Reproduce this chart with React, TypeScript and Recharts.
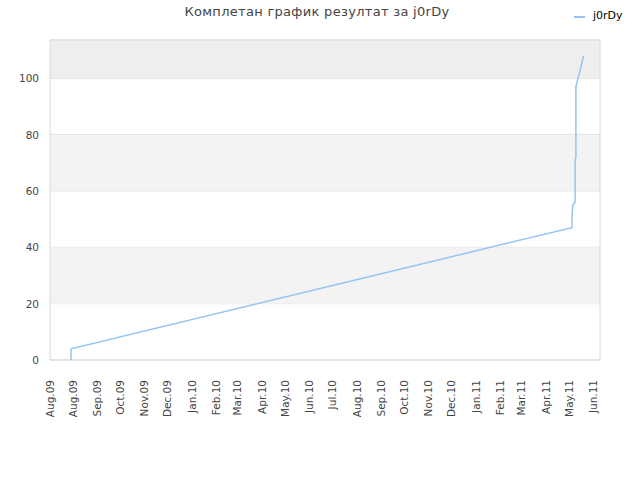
import React from "react";
import {
  LineChart,
  Line,
  XAxis,
  YAxis,
  CartesianGrid,
  ReferenceArea,
} from "recharts";

// days counted from 1 Aug 2009
const days = [-2, -2, 642, 642, 643, 646, 646, 647, 647, 657];
const scores = [0, 4, 47, 51, 55, 56, 71, 72, 97, 108];

const tickDays = [
  -29, 0, 31, 61, 92, 122, 153, 184, 212, 243, 273, 304, 334, 365, 396, 426,
  457, 487, 518, 549, 577, 608, 638, 669,
];
const tickLabels = [
  "Aug.09", "Aug.09", "Sep.09", "Oct.09", "Nov.09", "Dec.09", "Jan.10",
  "Feb.10", "Mar.10", "Apr.10", "May.10", "Jun.10", "Jul.10", "Aug.10",
  "Sep.10", "Oct.10", "Nov.10", "Dec.10", "Jan.11", "Feb.11", "Mar.11",
  "Apr.11", "May.11", "Jun.11",
];
const yTicks = [0, 20, 40, 60, 80, 100];
const bands = [
  { y1: 20, y2: 40, fill: "#f3f3f3" },
  { y1: 60, y2: 80, fill: "#f3f3f3" },
  { y1: 100, y2: 113.6, fill: "#eeeeee" },
];

const seriesName = "j0rDy";
const title = "Комплетан график резултат за j0rDy";

const X_MIN = -29;
const X_MAX = 678;
const Y_MAX = 113.6;

const data = days.map((d, i) => ({ day: d, score: scores[i] }));

const FONT = "'DejaVu Sans', sans-serif";

const XTick = (props: any) => {
  const { x, y, payload } = props;
  const idx = tickDays.indexOf(payload.value);
  const label = idx >= 0 ? tickLabels[idx] : "";
  return (
    <text
      x={0}
      y={0}
      transform={`translate(${x},${y + 12}) rotate(-90)`}
      textAnchor="end"
      dominantBaseline="central"
      fontSize={10.5}
      fontFamily={FONT}
      fill="#444"
    >
      {label}
    </text>
  );
};

const YTick = (props: any) => {
  const { y, payload } = props;
  return (
    <text
      x={39}
      y={y}
      textAnchor="end"
      dominantBaseline="central"
      fontSize={10.5}
      fontFamily={FONT}
      fill="#444"
    >
      {payload.value}
    </text>
  );
};

export default function App() {
  return (
    <div
      style={{
        position: "absolute",
        left: 0,
        top: 0,
        width: 640,
        height: 480,
        background: "#fff",
      }}
    >
      <div
        style={{
          position: "absolute",
          left: 0,
          top: 4,
          width: 634,
          textAlign: "center",
          fontFamily: FONT,
          fontSize: 13,
          color: "#444",
          letterSpacing: 0.3,
        }}
      >
        {title}
      </div>
      <div
        style={{
          position: "absolute",
          left: 574,
          top: 16,
          width: 11,
          height: 2,
          background: "#94c4f3",
        }}
      />
      <div
        style={{
          position: "absolute",
          left: 593,
          top: 9,
          fontFamily: FONT,
          fontSize: 11,
          color: "#000",
        }}
      >
        {seriesName}
      </div>
      <LineChart
        width={640}
        height={480}
        data={data}
        margin={{ top: 40, right: 40, left: 0, bottom: 0 }}
      >
        {bands.map((b, i) => (
          <ReferenceArea
            key={i}
            x1={X_MIN}
            x2={X_MAX}
            y1={b.y1}
            y2={b.y2}
            fill={b.fill}
            fillOpacity={1}
            stroke="none"
            ifOverflow="visible"
          />
        ))}
        <CartesianGrid
          vertical={false}
          stroke="#dddddd"
          strokeDasharray=""
        />
        <ReferenceArea
          x1={X_MIN}
          x2={X_MAX}
          y1={0}
          y2={Y_MAX}
          fill="none"
          fillOpacity={0}
          stroke="#d8d8d8"
          strokeOpacity={1}
          strokeWidth={1}
          ifOverflow="visible"
        />
        <XAxis
          dataKey="day"
          type="number"
          domain={[X_MIN, X_MAX]}
          ticks={tickDays}
          interval={0}
          height={120}
          axisLine={false}
          tickLine={false}
          tick={<XTick />}
          allowDataOverflow
        />
        <YAxis
          type="number"
          domain={[0, Y_MAX]}
          ticks={yTicks}
          width={50}
          axisLine={false}
          tickLine={false}
          tick={<YTick />}
          allowDataOverflow
        />
        <Line
          type="linear"
          dataKey="score"
          stroke="#94c4f3"
          strokeWidth={1.5}
          dot={false}
          isAnimationActive={false}
        />
      </LineChart>
    </div>
  );
}
